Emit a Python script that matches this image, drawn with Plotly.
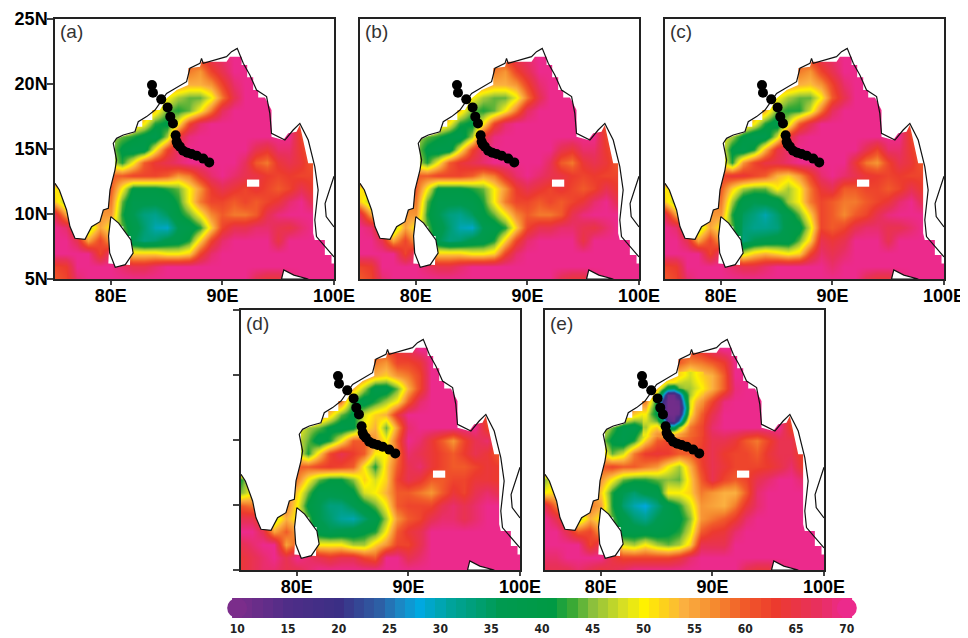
import plotly.graph_objects as go

lons = list(range(75, 101))
lats = list(range(22, 4, -1))

field_a = [
[70,70,70,70,70,70,70,70,70,70,70,70,60,62,66,68,70,70,70,70,70,70,70,70,70,70],
[70,70,70,70,70,70,70,70,70,70,70,60,58,56,62,66,70,70,70,70,70,70,70,70,70,70],
[70,70,70,70,70,70,70,70,70,70,58,56,54,54,56,62,68,70,70,70,70,70,70,70,70,70],
[70,70,70,70,70,70,70,70,70,56,50,46,44,44,49,58,66,70,70,70,70,70,70,70,70,70],
[70,70,70,70,70,70,70,70,58,52,44,42,44,50,58,67,70,70,70,70,70,70,70,70,70,70],
[70,70,70,70,70,70,70,54,50,42,40,50,62,68,70,70,70,70,70,70,70,70,60,60,70,70],
[70,70,70,70,70,46,44,42,39,37,46,64,69,70,70,70,70,70,70,70,70,70,62,60,60,70],
[70,70,70,70,70,46,40,37,38,50,62,68,70,70,70,70,70,70,66,64,68,68,63,60,60,70],
[70,70,70,70,70,48,42,50,60,64,66,68,70,70,70,70,70,67,60,58,64,66,64,60,60,70],
[70,70,70,70,70,60,60,62,62,62,60,56,58,64,68,70,68,66,65,63,62,63,62,62,62,70],
[50,55,60,60,60,60,50,40,40,40,42,44,50,56,63,66,64,62,64,62,60,62,66,63,63,70],
[52,45,50,55,58,58,44,37,37,37,38,42,50,58,62,62,60,62,60,62,64,68,70,66,66,70],
[66,55,55,55,56,56,42,36,33,32,35,40,44,50,57,60,58,58,60,66,69,70,70,70,70,70],
[70,68,60,45,55,50,44,38,34,30,29,36,38,42,52,62,66,66,68,68,66,65,68,70,70,70],
[70,70,66,55,62,55,48,36,33,34,37,38,42,52,62,68,70,70,70,70,65,70,70,70,70,70],
[70,70,70,70,62,68,58,52,52,52,50,50,52,62,68,70,70,70,70,70,70,70,70,70,70,70],
[62,63,70,70,70,70,68,66,66,68,70,70,70,70,70,70,70,70,70,70,70,70,70,70,70,70],
[60,62,68,70,70,70,70,70,70,70,70,70,70,70,70,70,70,70,66,64,64,68,70,70,70,70],
]

field_c = [
[70,70,70,70,70,70,70,70,70,70,70,70,60,62,66,68,70,70,70,70,70,70,70,70,70,70],
[70,70,70,70,70,70,70,70,70,70,70,60,58,56,62,66,70,70,70,70,70,70,70,70,70,70],
[70,70,70,70,70,70,70,70,70,70,58,56,54,53,56,62,68,70,70,70,70,70,70,70,70,70],
[70,70,70,70,70,70,70,70,70,56,50,46,44,44,50,60,66,70,70,70,70,70,70,70,70,70],
[70,70,70,70,70,70,70,70,58,54,44,42,42,48,58,67,70,70,70,70,70,70,70,70,70,70],
[70,70,70,70,70,70,70,54,50,42,38,48,60,66,70,70,70,70,70,70,70,70,60,60,70,70],
[70,70,70,70,70,50,46,40,36,37,48,64,69,70,70,70,70,70,70,70,70,70,62,60,60,70],
[70,70,70,70,70,50,40,37,42,54,65,68,70,70,70,70,70,70,66,62,68,68,63,60,60,70],
[70,70,70,70,70,52,42,56,62,65,66,68,70,70,70,70,70,64,58,56,62,66,64,60,60,70],
[70,70,70,70,70,62,64,64,62,60,54,52,56,62,68,70,68,66,64,63,62,63,62,62,62,70],
[50,55,60,60,60,60,52,46,44,44,50,46,50,58,64,66,60,60,62,62,60,62,66,63,63,70],
[52,45,50,55,58,58,46,38,36,37,38,46,50,58,62,60,58,58,60,62,64,68,70,66,66,70],
[66,55,55,55,56,56,42,35,33,30,34,38,44,52,62,60,57,60,62,66,69,70,70,70,70,70],
[70,68,60,45,55,50,44,34,32,32,33,38,39,48,62,60,62,66,68,68,66,66,68,70,70,70],
[70,70,66,55,62,55,48,33,36,37,38,38,44,52,66,64,66,70,70,70,66,70,70,70,70,70],
[70,70,70,70,62,68,55,48,52,54,52,50,52,62,68,66,68,70,70,70,70,70,70,70,70,70],
[62,63,70,70,70,70,68,66,66,68,70,70,70,70,70,68,70,70,70,70,70,70,70,70,70,70],
[60,62,68,70,70,70,70,70,70,70,70,70,70,70,70,70,70,70,66,64,64,68,70,70,70,70],
]

field_d = [
[70,70,70,70,70,70,70,70,70,70,70,70,60,62,64,66,70,70,70,70,70,70,70,70,70,70],
[70,70,70,70,70,70,70,70,70,70,70,62,58,56,62,62,64,70,70,70,70,70,70,70,70,70],
[70,70,70,70,70,70,70,70,70,70,60,58,54,52,56,58,62,70,70,70,70,70,70,70,70,70],
[70,70,70,70,70,70,70,70,70,60,54,46,38,38,44,54,62,70,70,70,70,70,70,70,70,70],
[70,70,70,70,70,70,70,70,60,58,42,38,42,46,50,60,68,70,70,70,70,70,70,70,70,70],
[70,70,70,70,70,70,70,58,52,44,40,48,52,54,64,70,70,70,70,70,70,70,60,60,70,70],
[70,70,70,70,70,50,46,44,40,38,40,50,54,44,56,68,70,70,70,70,70,70,62,60,60,70],
[70,70,70,70,70,48,44,38,42,50,60,60,56,50,60,70,68,64,60,56,62,66,68,62,62,70],
[70,70,70,70,70,50,42,52,62,66,63,60,50,50,58,68,66,64,62,60,63,66,64,60,60,70],
[70,70,70,70,70,60,60,62,63,62,60,50,42,52,60,66,68,64,62,60,60,62,64,63,63,70],
[42,50,60,60,60,58,50,44,41,41,45,52,48,52,62,66,64,60,60,62,62,64,64,63,63,70],
[45,50,55,55,58,52,44,37,37,38,40,48,50,54,60,60,58,56,60,64,62,66,68,66,66,70],
[60,58,56,56,58,50,40,36,33,33,36,40,44,50,60,62,62,62,66,68,66,68,70,70,70,70],
[66,66,60,46,54,50,44,36,34,31,30,34,38,46,56,60,62,66,68,68,66,68,70,70,70,70],
[70,70,66,55,60,55,46,38,36,37,38,40,42,50,60,64,66,70,70,70,70,70,70,70,70,70],
[66,68,70,70,55,60,60,50,50,50,46,46,52,56,62,62,66,70,70,70,70,70,70,70,70,70],
[64,66,68,70,66,70,68,66,64,66,66,62,60,70,70,66,68,70,70,70,70,70,70,70,70,70],
[64,66,68,68,66,66,68,70,70,70,70,70,70,70,70,70,70,70,70,70,70,70,70,70,70,70],
]

field_e = [
[70,70,70,70,70,70,70,70,70,70,70,70,60,62,64,68,70,70,70,70,70,70,70,70,70,70],
[70,70,70,70,70,70,70,70,70,70,70,62,60,57,58,60,63,70,70,70,70,70,70,70,70,70],
[70,70,70,70,70,70,70,70,70,70,60,58,52,48,52,54,60,70,70,70,70,70,70,70,70,70],
[70,70,70,70,70,70,70,70,70,62,54,38,44,46,50,54,60,69,70,70,70,70,70,70,70,70],
[70,70,70,70,70,70,70,70,60,58,40,12,22,50,56,62,69,70,70,70,70,70,70,70,70,70],
[70,70,70,70,70,70,70,58,52,48,40,12,22,50,60,66,70,70,70,70,70,70,60,60,70,70],
[70,70,70,70,70,50,44,38,37,44,52,38,50,58,62,68,70,70,70,70,70,70,62,60,60,70],
[70,70,70,70,70,46,40,37,42,52,60,62,60,60,62,66,66,64,60,58,62,66,66,62,62,70],
[70,70,70,70,70,54,44,48,58,63,64,63,60,60,63,66,63,62,62,60,64,66,66,62,62,70],
[70,70,70,70,70,60,62,60,60,58,56,50,46,54,62,66,64,62,62,62,63,65,68,63,63,70],
[45,52,60,60,60,56,50,44,42,42,44,45,44,52,60,66,62,60,62,66,68,70,70,68,68,70],
[50,52,55,55,58,52,42,36,34,37,38,50,50,52,58,56,54,54,60,68,70,70,70,70,70,70],
[66,58,56,56,58,55,42,34,30,28,33,38,42,48,56,55,54,58,64,68,70,70,70,70,70,70],
[70,66,60,45,54,50,44,38,34,32,36,38,40,45,56,58,60,63,68,70,70,70,70,70,70,70],
[70,70,66,60,62,55,46,38,38,38,38,40,42,48,60,63,64,68,70,70,70,70,70,70,70,70],
[70,70,70,70,62,66,62,48,46,50,46,44,46,52,66,66,66,70,70,70,70,70,70,70,70,70],
[68,68,70,70,70,70,65,62,62,62,62,62,64,68,70,70,70,70,70,70,70,70,70,70,70,70],
[66,66,66,68,66,64,66,68,70,70,70,70,70,70,70,70,70,70,66,64,64,68,70,70,70,70],
]

patch_lons = [84,84.5,85,85.5,86,86.5,87,87.5,88,88.5,89]
patch_lats = [20,19.5,19,18.5,18,17.5,17,16.5,16,15.5]
patch_e = [
[70,64,60,58,58,54,52,50,48,50,52],
[66,60,57,54,50,50,48,47,47,49,51],
[62,58,54,46,38,36,44,46,46,48,50],
[60,56,48,30,12,12,20,38,46,50,53],
[58,50,40,20,11,11,12,33,48,53,56],
[54,46,40,16,11,11,11,28,48,55,58],
[50,44,40,22,11,11,12,32,50,56,60],
[48,46,44,36,14,12,24,42,54,58,61],
[46,50,52,46,34,34,44,52,58,60,62],
[49,53,56,57,52,53,55,57,59,60,62],
]

coast_lon = [75,75.39,76.04,76.34,76.79,77.69,78.28,79.03,79.33,79.78,79.93,80.37,80.52,80.22,80.52,81.12,82.16,82.46,83.21,83.96,85,85.75,86.79,87.09,87.99,88.13,88.28,90.37,90.82,91.33,91.87,92.46,93.06,93.96,94.25,94.4,95.6,96.34,96.94,97.69,98.28,98.58,98.28,98.43,99.18,100]
coast_lat = [12.36,11.85,10.31,9.03,8.13,8.05,9.03,9.41,10.31,10.44,11.85,13.38,14.15,15.44,15.82,16.08,16.33,17.1,17.49,18.0,19.28,19.67,20.18,21.21,21.59,21.97,21.59,22.1,22.49,22.74,21.59,20.69,19.54,19.03,17.74,16.21,15.69,16.46,16.97,15.69,13.64,11.85,9.54,8.26,7.49,6.7]
mask_lon = [75,75.39,76.04,76.34,76.79,77.69,78.28,79.03,79.33,79.78,79.93,80.37,80.37,81.12,82.16,82.37,82.82,82.82,83.72,83.72,84.4,85,85.9,86.94,86.94,87.99,88.13,90.37,90.67,91.72,91.72,92.22,92.22,92.76,92.76,93.21,93.21,93.81,94.4,94.4,95.45,95.9,96.64,96.94,97.69,98.13,98.13,98.28,99.18,99.18,99.78,99.78,100,100,75,75]
mask_lat = [12.36,11.85,10.31,9.03,8.13,8.05,9.03,9.41,10.31,10.44,11.85,13.38,15.69,16.0,16.26,16.72,16.72,17.23,17.23,18.0,18.0,18.9,19.54,19.92,21.21,21.33,21.72,21.72,22.1,22.1,21.46,21.46,20.51,20.51,19.54,19.54,18.97,18.97,18.0,15.95,15.69,16.21,16.33,16.85,13.9,13.9,8.51,8.0,8.0,6.85,6.85,6.2,6.2,25,25,12.36]
lanka_lon = [80,80.7,81.8,82,81.3,80.4,79.9,79.8,80]
lanka_lat = [9.8,9.3,8,7,6.1,5.9,7,8.3,9.8]
lanka_mask_lon = [79.78,81.72,81.78,81.12,81.12,79.93,79.78]
lanka_mask_lat = [6.2,6.08,8.31,8.31,9.03,9.03,6.2]
sumatra_lon = [95.3,95.5,96.4,97.7,95.3]
sumatra_lat = [5,5.7,5.3,5,5]
gulf_lon = [100,99.2,99.3,100]
gulf_lat = [12.9,10.8,9.8,9]
island_lon = [92.2,93.3,93.3,92.2,92.2]
island_lat = [12.1,12.1,12.65,12.65,12.1]

track_lon = [83.69,83.78,84.52,85.09,85.33,85.57,85.81,85.9,86.0,86.19,86.49,86.85,87.24,87.69,88.28,88.82]
track_lat = [19.92,19.33,18.82,18.2,17.49,16.97,16.05,15.56,15.35,15.18,14.87,14.72,14.62,14.49,14.26,13.97]

colorscale_values = [10,15,20,24,26,28,31,36,41,43,45,48,50,52,54,57,60,63,67,70]
colorscale_colors = ["#7b2d8b","#4f2d87","#3b2f85","#2d5fa5","#1b87c4","#00a8e0","#00a39b","#009a50","#009a44","#3aa935","#8cc03c","#d7df23","#fff200","#fdd11c","#fbb040","#f58a2f","#f15a29","#ec3a2e","#e8305c","#ec2a8c"]
colorbar_levels = list(range(10, 71))
colorbar_ticks = [10,15,20,25,30,35,40,45,50,55,60,65,70]

# the page body adds an 8 px margin, so the figure is placed 8 px up and left
OFF = 8
W, H = 968 - OFF, 638 - OFF
panels = [
    ("(a)", field_a, 55, 19, True, False),
    ("(b)", field_a, 360, 19, False, False),
    ("(c)", field_c, 665, 19, False, False),
    ("(d)", field_d, 241, 310, False, True),
    ("(e)", field_e, 545, 310, False, False),
]
cs = [[(v - 10) / 60, c] for v, c in zip(colorscale_values, colorscale_colors)]
fig = go.Figure()
layout = {}
for i, (name, field, px, py, ylab, ytick) in enumerate(panels, start=1):
    px -= OFF
    py -= OFF
    xa, ya = f"x{i}", f"y{i}"
    kw = dict(xaxis=xa, yaxis=ya)
    fig.add_trace(go.Heatmap(x=lons, y=lats, z=field, zmin=10, zmax=70, colorscale=cs,
                             zsmooth="best", showscale=False, hoverinfo="skip", **kw))
    if name == "(e)":
        fig.add_trace(go.Heatmap(x=patch_lons, y=patch_lats, z=patch_e, zmin=10, zmax=70, colorscale=cs,
                                 zsmooth="best", showscale=False, hoverinfo="skip", **kw))
    for lo, la in ((mask_lon, mask_lat), (lanka_mask_lon, lanka_mask_lat), (island_lon, island_lat)):
        fig.add_trace(go.Scatter(x=lo, y=la, mode="lines", fill="toself", fillcolor="white",
                                 line=dict(color="white", width=0), showlegend=False, hoverinfo="skip", **kw))
    for lo, la in ((lanka_lon, lanka_lat), (sumatra_lon, sumatra_lat)):
        fig.add_trace(go.Scatter(x=lo, y=la, mode="lines", fill="toself", fillcolor="white",
                                 line=dict(color="#111", width=1.2), showlegend=False, hoverinfo="skip", **kw))
    for lo, la in ((coast_lon, coast_lat), (gulf_lon, gulf_lat)):
        fig.add_trace(go.Scatter(x=lo, y=la, mode="lines", line=dict(color="#111", width=1.2),
                                 showlegend=False, hoverinfo="skip", **kw))
    fig.add_trace(go.Scatter(x=track_lon, y=track_lat, mode="markers", marker=dict(color="black", size=10),
                             showlegend=False, hoverinfo="skip", **kw))
    font = dict(family="Liberation Sans", size=18, color="black")
    layout["xaxis" + str(i)] = dict(domain=[px / W, (px + 279) / W], range=[75, 100], anchor=ya, automargin=False,
        tickvals=[80, 90, 100], ticktext=["<b>80E</b>", "<b>90E</b>", "<b>100E</b>"], ticks="outside", ticklen=4,
        tickwidth=2, tickfont=font, ticklabelstandoff=-4, showline=True, mirror=True, linecolor="#222", linewidth=1.5, showgrid=False, zeroline=False)
    layout["yaxis" + str(i)] = dict(domain=[1 - (py + 260) / H, 1 - py / H], range=[5, 25], anchor=xa, automargin=False,
        tickvals=[5, 10, 15, 20, 25] if (ylab or ytick) else [],
        ticktext=["<b>5N</b>", "<b>10N</b>", "<b>15N</b>", "<b>20N</b>", "<b>25N</b>"] if ylab else ["", "", "", "", ""],
        ticks="outside" if (ylab or ytick) else "", ticklen=6, tickwidth=2, tickfont=font, ticklabelstandoff=-4, showline=True, mirror=True,
        linecolor="#222", linewidth=1.5, showgrid=False, zeroline=False)
    fig.add_annotation(x=(px + 3) / W, y=1 - (py + 13) / H, xref="paper", yref="paper", text=name, showarrow=False,
                       xanchor="left", yanchor="middle", font=dict(family="Liberation Sans", size=19, color="#333"))

fig.add_trace(go.Heatmap(x=colorbar_levels, y=[0, 1], z=[colorbar_levels, colorbar_levels], zmin=10, zmax=70, colorscale=cs,
                         showscale=False, hoverinfo="skip", xaxis="x6", yaxis="y6"))
fig.add_trace(go.Scatter(x=[colorbar_levels[0], colorbar_levels[-1]], y=[0.5, 0.5], mode="markers",
                         marker=dict(size=20, color=[colorscale_colors[0], colorscale_colors[-1]]), cliponaxis=False,
                         showlegend=False, hoverinfo="skip", xaxis="x6", yaxis="y6"))
layout["xaxis6"] = dict(domain=[(227 - OFF) / W, (857 - OFF) / W], range=[9, 71], anchor="y6", automargin=False, tickvals=colorbar_ticks,
    ticktext=[f"<b>{t}</b>" for t in colorbar_ticks], ticks="", ticklabelstandoff=2, tickfont=dict(family="DejaVu Sans Condensed", size=12, color="#222"),
    showgrid=False, zeroline=False, showline=False)
layout["yaxis6"] = dict(domain=[1 - (618 - OFF) / H, 1 - (598 - OFF) / H], range=[0, 1], anchor="x6", visible=False, automargin=False)
fig.update_layout(width=W, height=H, margin=dict(l=0, r=0, t=0, b=0), autosize=False, paper_bgcolor="white",
                  plot_bgcolor="white", showlegend=False, **layout)
fig.write_html("out.html")
